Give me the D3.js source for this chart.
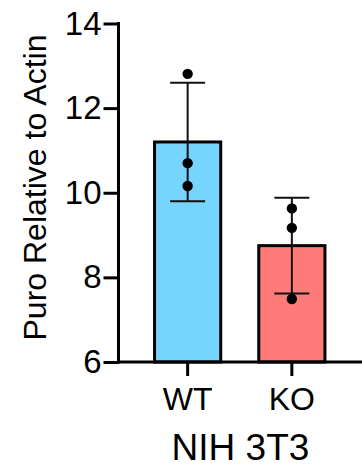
<!DOCTYPE html>
<html>
<head>
<meta charset="utf-8">
<script src="https://cdn.jsdelivr.net/npm/d3@7"></script>
<style>
  html, body { margin: 0; padding: 0; background: #fff; }
  svg { display: block; }
  text { font-family: "Liberation Sans", Arial, sans-serif; fill: #000; }
</style>
</head>
<body>
<svg id="chart" width="362" height="470"></svg>
<script>
const categories = ["WT", "KO"];
const means = [11.2, 8.75];
const sds = [1.40, 1.13];
const pointsWT = [12.81, 10.70, 10.16];
const pointsKO = [9.63, 9.17, 7.49];
const yTicks = [6, 8, 10, 12, 14];
const colors = ["#76D4FD", "#FF7B79"];
const yTitle = "Puro Relative to Actin";
const xTitle = "NIH 3T3";

const points = [pointsWT, pointsKO];

const svg = d3.select("#chart");
const axisX = 118.5, axisRight = 362;
const y = d3.scaleLinear().domain([6, 14]).range([362, 23.5]);
const x = d3.scaleBand().domain(categories).range([axisX, 361])
  .paddingInner(0.365).paddingOuter(0.346);

// bars
svg.selectAll("rect.bar").data(categories).enter().append("rect")
  .attr("class", "bar")
  .attr("x", d => x(d))
  .attr("width", x.bandwidth())
  .attr("y", (d, i) => y(means[i]))
  .attr("height", (d, i) => y(6) - y(means[i]))
  .attr("fill", (d, i) => colors[i])
  .attr("stroke", "#000")
  .attr("stroke-width", 3);

// error bars
const cap = 35;
categories.forEach((c, i) => {
  const cx = x(c) + x.bandwidth() / 2;
  const g = svg.append("g").attr("stroke", "#111").attr("stroke-width", 2);
  g.append("line").attr("x1", cx).attr("x2", cx)
    .attr("y1", y(means[i] + sds[i])).attr("y2", y(means[i] - sds[i]));
  [means[i] + sds[i], means[i] - sds[i]].forEach(v => {
    g.append("line").attr("x1", cx - cap / 2).attr("x2", cx + cap / 2)
      .attr("y1", y(v)).attr("y2", y(v));
  });
  svg.selectAll(null).data(points[i]).enter().append("circle")
    .attr("cx", cx).attr("cy", d => y(d)).attr("r", 5.2).attr("fill", "#000");
});

// y axis
const yAxis = d3.axisLeft(y).tickValues(yTicks).tickSize(15).tickPadding(2).tickFormat(d3.format("d"));
const gy = svg.append("g").attr("transform", `translate(${axisX},0)`).call(yAxis);
gy.select(".domain").remove();
gy.append("line").attr("x1", 0).attr("x2", 0).attr("y1", y(14) - 1.5).attr("y2", y(6) + 1.5)
  .attr("stroke", "#000").attr("stroke-width", 3);
gy.selectAll(".tick line").attr("stroke", "#000").attr("stroke-width", 3);
gy.selectAll(".tick text").style("font-size", "33px").style("font-family", "Liberation Sans, Arial, sans-serif").attr("fill", "#000");

// x axis
const xAxis = d3.axisBottom(x).tickSize(14).tickPadding(11);
const gx = svg.append("g").attr("transform", `translate(0,${y(6)})`).call(xAxis);
gx.select(".domain").remove();
gx.append("line").attr("x1", axisX).attr("x2", axisRight).attr("y1", 0).attr("y2", 0)
  .attr("stroke", "#000").attr("stroke-width", 3);
gx.selectAll(".tick line").attr("stroke", "#000").attr("stroke-width", 3);
gx.selectAll(".tick text").style("font-size", "32px").style("font-family", "Liberation Sans, Arial, sans-serif").attr("fill", "#000");

// titles
svg.append("text").attr("x", 240.5).attr("y", 460)
  .attr("text-anchor", "middle").style("font-size", "37px").text(xTitle);
svg.append("text").attr("transform", `translate(46,187.5) rotate(-90)`)
  .attr("text-anchor", "middle").style("font-size", "32px").text(yTitle);
</script>
</body>
</html>
